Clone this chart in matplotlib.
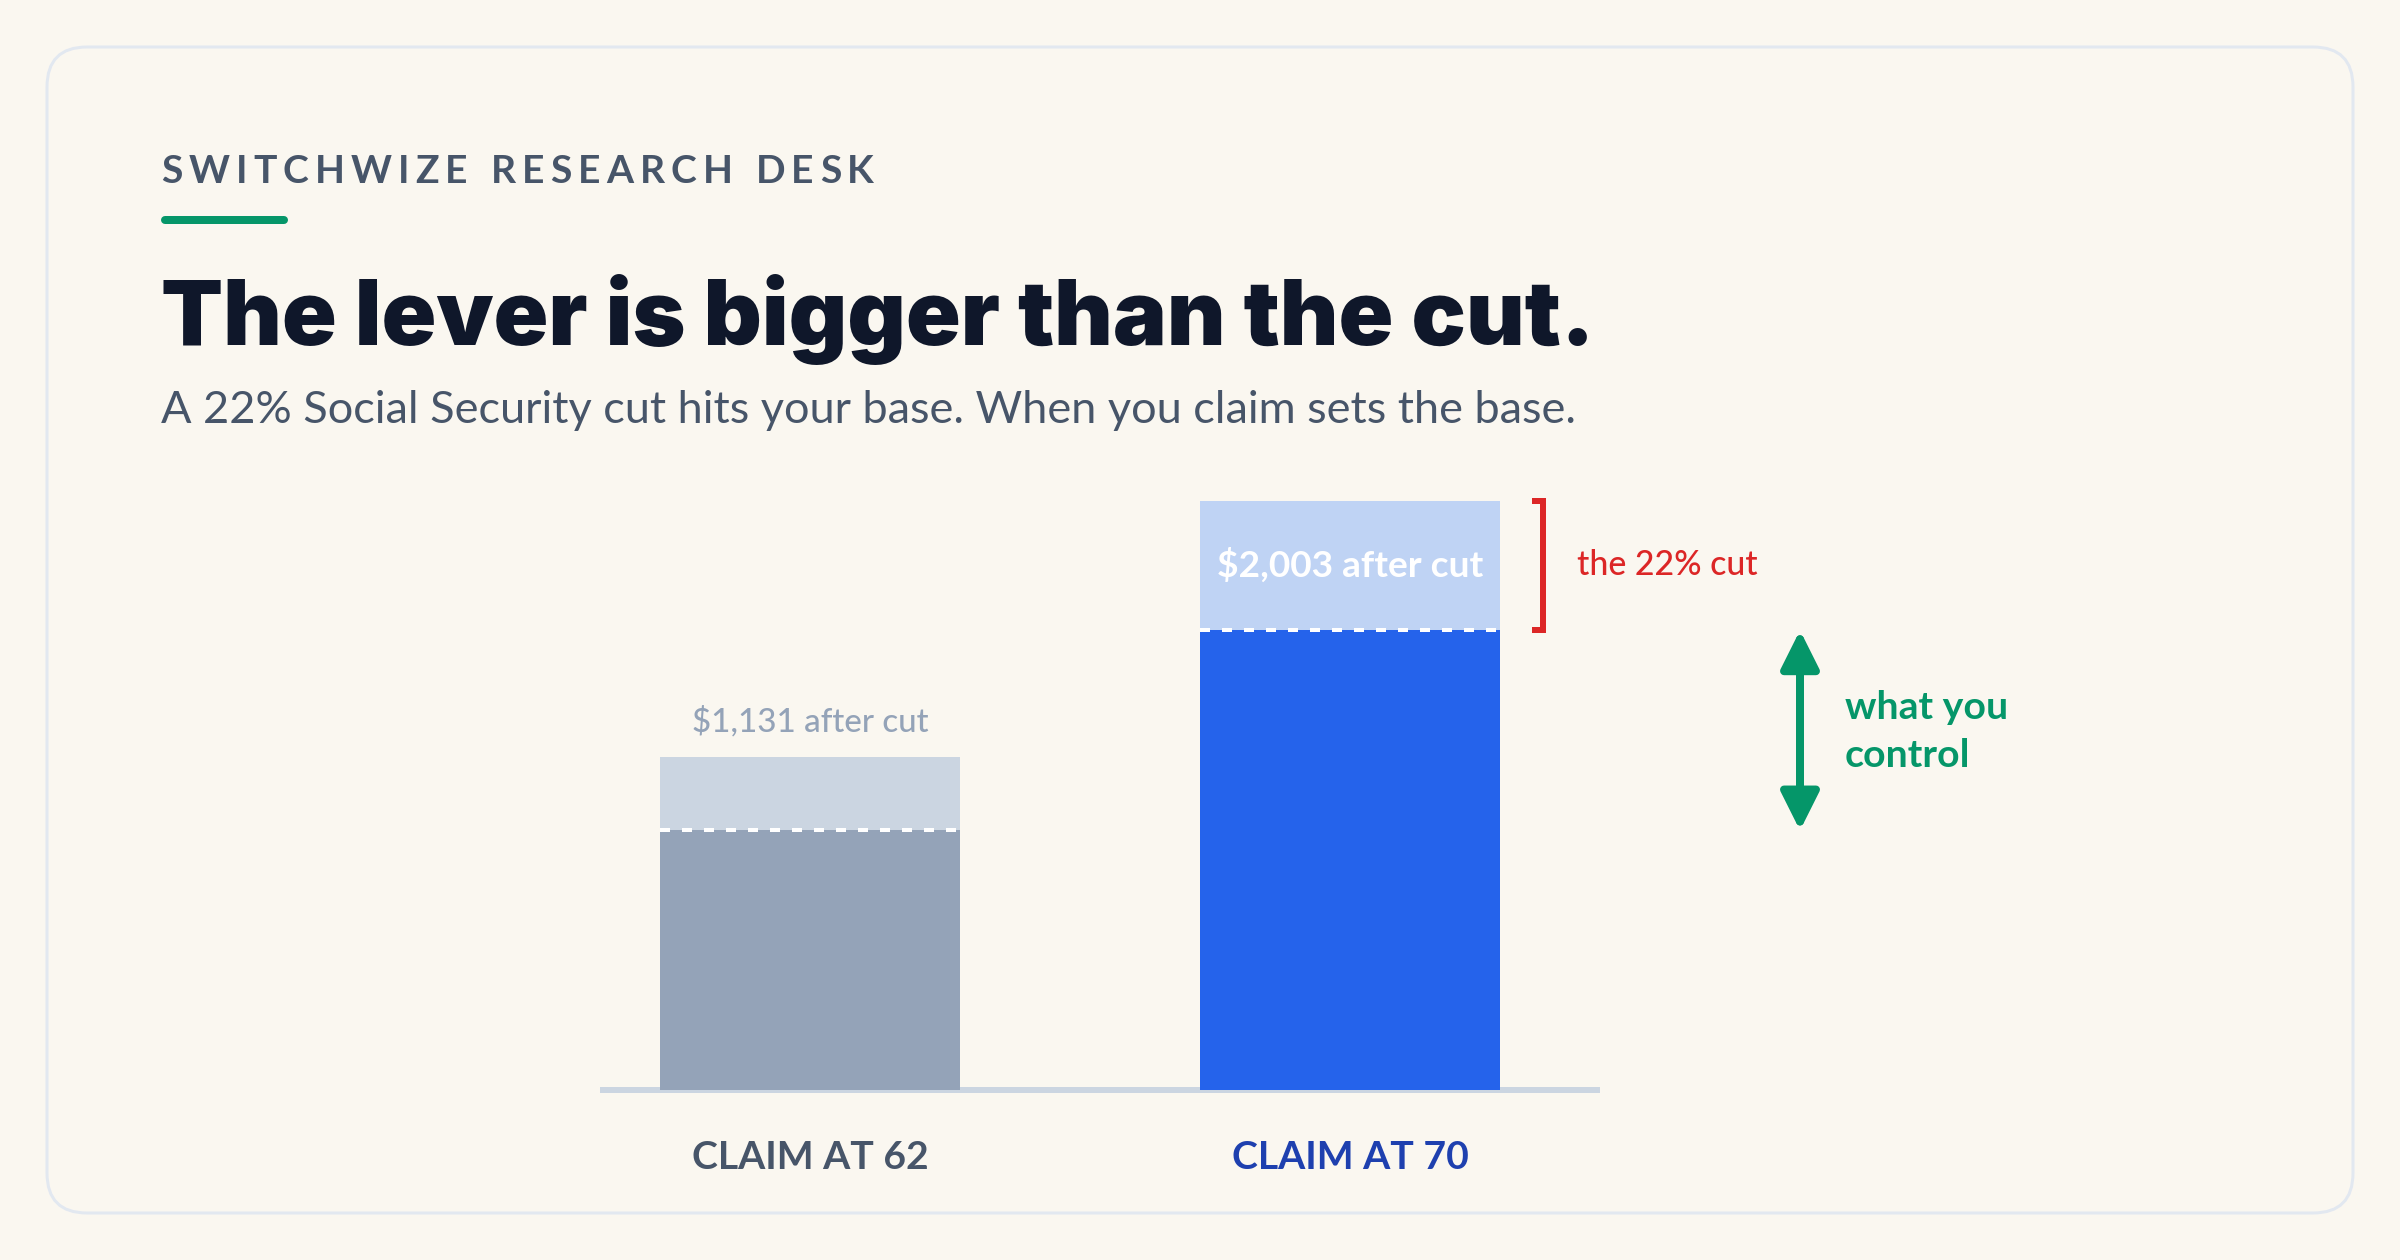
import matplotlib
matplotlib.use("Agg")
import matplotlib.pyplot as plt
from matplotlib.patches import FancyBboxPatch
from matplotlib import transforms, font_manager
from matplotlib.font_manager import FontProperties

plt.rcParams['lines.scale_dashes'] = False

# ---------------- data ----------------
categories = ['CLAIM AT 62', 'CLAIM AT 70']
full_benefit = [1450, 2568]          # monthly benefit before the cut ($)
after_cut = [1131, 2003]             # monthly benefit after the 22% cut ($)
after_labels = ['$1,131 after cut', '$2,003 after cut']

eyebrow = 'SWITCHWIZE RESEARCH DESK'
title = 'The lever is bigger than the cut.'
subtitle = 'A 22% Social Security cut hits your base. When you claim sets the base.'
cut_note = 'the 22% cut'
control_lines = ['what you', 'control']

# ---------------- style ----------------
W, H, DPI = 2400, 1260, 100
PT = 72 / DPI
BG = '#faf7f0'
GREEN = '#059669'
RED = '#dc2626'
SLATE = '#475569'
lower_colors = ['#94a3b8', '#2563eb']
upper_colors = ['#cbd5e1', '#bfd3f4']
label_colors = [SLATE, '#1e40af']


def face(fname_part, family, weight):
    """FontProperties pointing at a specific installed font file."""
    for f in font_manager.fontManager.ttflist:
        if f.fname.endswith(fname_part):
            return FontProperties(fname=f.fname)
    return FontProperties(family=family, weight=weight)


F_BLACK = face('Inter-Black.otf', 'Lato', 900)
F_BOLD = face('Lato-Bold.ttf', 'Lato', 700)
F_MED = face('Lato-Medium.ttf', 'Lato', 500)
F_REG = face('Lato-Regular.ttf', 'Lato', 400)


def fp(base, size):
    p = base.copy()
    p.set_size(size)
    return p


fig = plt.figure(figsize=(W / DPI, H / DPI), dpi=DPI, facecolor=BG)
r = fig.canvas.get_renderer()

bg = fig.add_axes([0, 0, 1, 1])
bg.set_xlim(0, W)
bg.set_ylim(H, 0)
bg.axis('off')
bg.set_autoscale_on(False)


def fit(t, target):
    w = t.get_window_extent(renderer=r).width
    t.set_fontsize(t.get_fontsize() * target / w)
    return t


# card
bg.add_patch(FancyBboxPatch((47, 47), 2306, 1166,
                            boxstyle='round,pad=0,rounding_size=40',
                            fc=BG, ec='#e2e8f0', lw=3 * PT, zorder=0))

# eyebrow with letter spacing
fp_eb = fp(F_BOLD, 39 * PT)


def wof(s):
    return r.get_text_width_height_descent(s, fp_eb, ismath=False)[0]


words = eyebrow.split(' ')
space = 0.27 * 39
nsp = sum(len(w_) - 1 for w_ in words) + 2 * (len(words) - 1)
base = sum(wof(w_) for w_ in words) + (len(words) - 1) * space
sp = (713 - base) / nsp
xx = 161
for word in words:
    for i, c in enumerate(word):
        xi = xx + wof(word[:i + 1]) - wof(c) + i * sp
        bg.text(xi, 183, c, fontproperties=fp_eb, color=SLATE, va='baseline', ha='left')
    xx += wof(word) + (len(word) - 1) * sp + space + 2 * sp

# green rule
bg.plot([165, 284], [220, 220], lw=8 * PT, color=GREEN, solid_capstyle='round')

# title & subtitle
t = bg.text(161, 345, title, fontproperties=fp(F_BLACK, 68),
            color='#0f172a', va='baseline', ha='left')
fit(t, 1435)
t = bg.text(161, 423, subtitle, fontproperties=fp(F_REG, 30),
            color=SLATE, va='baseline', ha='left')
fit(t, 1416)

# ---------------- chart ----------------
ax = fig.add_axes([600 / W, (H - 1090) / H, 1000 / W, 610 / H])
ax.axis('off')
unit = 540.0
bw = 300 / unit
x = list(range(len(categories)))
ax.set_xlim(-210 / unit, 1 + 250 / unit)
ax.set_ylim(0, max(full_benefit) * 1.035)

cut_amount = [f - a for f, a in zip(full_benefit, after_cut)]
ax.bar(x, after_cut, bw, color=lower_colors, lw=0, zorder=3)
ax.bar(x, cut_amount, bw, bottom=after_cut, color=upper_colors, lw=0, zorder=3)
for xi, a in zip(x, after_cut):
    ax.hlines(a, xi - bw / 2, xi + bw / 2, colors='white', lw=4 * PT,
              linestyles=(0, (10 * PT, 12 * PT)), zorder=4)

xl = ax.get_xlim()
ax.plot(xl, [0, 0], color='#cbd5e1', lw=6 * PT, zorder=2, clip_on=False,
        solid_capstyle='butt')

# value labels
t = ax.annotate(after_labels[0], (x[0], full_benefit[0]), xytext=(0, 26),
                textcoords='offset pixels', ha='center', va='baseline',
                color='#94a3b8', fontproperties=fp(F_MED, 25))
fit(t, 237)
t = ax.text(x[1], (after_cut[1] + full_benefit[1]) / 2, after_labels[1],
            ha='center', va='center', color='white',
            fontproperties=fp(F_BOLD, 25), zorder=5)
fit(t, 267)

# category labels
cat_texts = []
for xi, lab, col in zip(x, categories, label_colors):
    t = ax.annotate(lab, (xi, 0), xytext=(0, -79), textcoords='offset pixels',
                    ha='center', va='baseline', color=col,
                    fontproperties=fp(F_BOLD, 27), annotation_clip=False)
    cat_texts.append(t)
fit(cat_texts[0], 237)
for t in cat_texts[1:]:
    t.set_fontsize(cat_texts[0].get_fontsize())

# ---------------- annotations ----------------
trans = transforms.blended_transform_factory(bg.transData, ax.transData)

# bracket for the cut on the 70 bar
bg.plot([1532, 1543, 1543, 1532],
        [full_benefit[1], full_benefit[1], after_cut[1], after_cut[1]],
        transform=trans, color=RED, lw=6 * PT, solid_joinstyle='miter',
        solid_capstyle='butt', clip_on=False)
t = bg.text(1577, (after_cut[1] + full_benefit[1]) / 2, cut_note,
            transform=trans, va='center', ha='left', color=RED,
            fontproperties=fp(F_MED, 23))
fit(t, 181)

# double arrow between the two after-cut levels
bg.annotate('', xy=(1800, after_cut[1]), xytext=(1800, after_cut[0]),
            xycoords=trans, textcoords=trans,
            arrowprops=dict(arrowstyle='<|-|>,head_length=23,head_width=11.5',
                            color=GREEN, lw=8 * PT, shrinkA=0, shrinkB=0,
                            mutation_scale=1))
mid = (after_cut[0] + after_cut[1]) / 2
t1 = bg.annotate(control_lines[0], (1845, mid), xycoords=trans, xytext=(0, 11),
                 textcoords='offset pixels', va='baseline', ha='left',
                 color=GREEN, fontproperties=fp(F_BOLD, 26))
fit(t1, 163)
t2 = bg.annotate(control_lines[1], (1845, mid), xycoords=trans, xytext=(0, -37),
                 textcoords='offset pixels', va='baseline', ha='left',
                 color=GREEN, fontproperties=fp(F_BOLD, t1.get_fontsize()))

fig.savefig('out.png', dpi=DPI, facecolor=BG)
